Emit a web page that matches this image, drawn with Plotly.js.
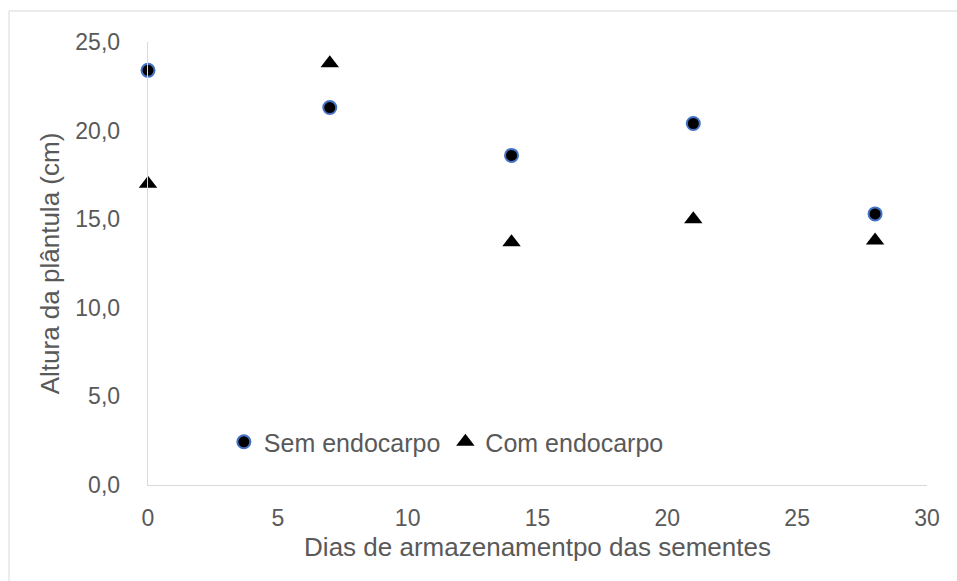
<!DOCTYPE html>
<html>
<head>
<meta charset="utf-8">
<script src="https://cdn.plot.ly/plotly-3.0.1.min.js"></script>
<style>
  html, body { margin: 0; padding: 0; background: #ffffff; }
  #chart { width: 957px; height: 581px; }
</style>
</head>
<body>
<div id="chart"></div>
<script>
// Data
const dias = [0, 7, 14, 21, 28];
const semEndocarpo = [23.4, 21.3, 18.6, 20.4, 15.3];
const comEndocarpo = [17.0, 23.8, 13.7, 15.0, 13.8];
const seriesNames = ['Sem endocarpo', 'Com endocarpo'];
const xTitle = 'Dias de armazenamentpo das sementes';
const yTitle = 'Altura da plântula (cm)';

const FONT = 'Liberation Sans, Arial, sans-serif';
const GREY = '#595959';

const traces = [
  {
    x: dias, y: semEndocarpo, name: seriesNames[0],
    type: 'scatter', mode: 'markers', cliponaxis: false,
    marker: { symbol: 'circle', size: 13, color: '#000000', line: { color: '#4472C4', width: 2 } }
  },
  {
    x: dias, y: comEndocarpo, name: seriesNames[1],
    type: 'scatter', mode: 'markers', cliponaxis: false,
    marker: { symbol: 'triangle-up', size: 16, color: '#000000', line: { width: 0 } }
  }
];

const layout = {
  width: 957, height: 581,
  margin: { l: 148, r: 30, t: 42, b: 96, pad: 0 },
  paper_bgcolor: '#ffffff', plot_bgcolor: '#ffffff',
  separators: ',.',
  font: { family: FONT, color: GREY, size: 23 },
  showlegend: true,
  legend: {
    orientation: 'h', x: 0.383, xanchor: 'center', y: 0.097, yanchor: 'middle',
    bgcolor: 'rgba(0,0,0,0)', font: { family: FONT, size: 25, color: GREY },
    itemwidth: 30, tracegroupgap: 0
  },
  xaxis: {
    range: [0, 30], dtick: 5, tick0: 0, tickformat: 'd',
    showgrid: false, zeroline: false,
    showline: true, linecolor: '#d9d9d9', linewidth: 1.3,
    ticks: '', ticklabelstandoff: 12,
    tickfont: { family: FONT, size: 23, color: GREY },
    title: { text: xTitle, font: { family: FONT, size: 26, color: GREY }, standoff: 8 },
    automargin: false, fixedrange: true
  },
  yaxis: {
    range: [0, 25], dtick: 5, tick0: 0, tickformat: '.1f',
    showgrid: false, zeroline: false,
    showline: true, linecolor: '#d9d9d9', linewidth: 1.3,
    ticks: '', ticklabelstandoff: 22,
    tickfont: { family: FONT, size: 23, color: GREY },
    title: { text: yTitle, font: { family: FONT, size: 26, color: GREY }, standoff: 8 },
    automargin: false, fixedrange: true
  },
  shapes: [{
    type: 'rect', xref: 'paper', yref: 'paper',
    x0: -0.1784, x1: 1.2, y0: -0.4, y1: 1.070,
    line: { color: '#d9d9d9', width: 1 }, fillcolor: 'rgba(0,0,0,0)', layer: 'below'
  }]
};

Plotly.newPlot('chart', traces, layout, { staticPlot: true, displayModeBar: false });
</script>
</body>
</html>
